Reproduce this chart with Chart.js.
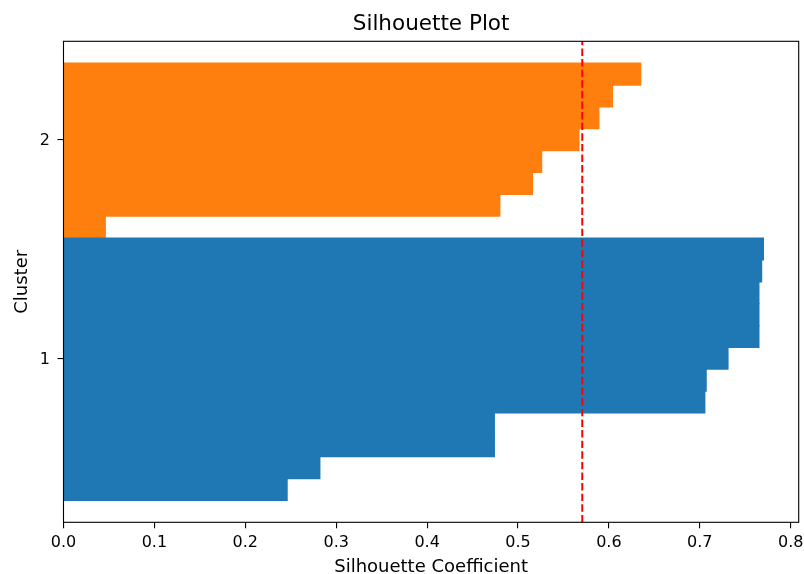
<!DOCTYPE html>
<html>
<head>
<meta charset="utf-8">
<title>Silhouette Plot</title>
<script src="https://cdn.jsdelivr.net/npm/chart.js@4/dist/chart.umd.min.js"></script>
<style>
    body { margin: 0; background: #fff; }
    canvas { display: block; }
</style>
</head>
<body>
<canvas id="chart" width="804" height="574"></canvas>
<script>
// silhouette values per sample, sorted, bottom to top
let clusterLabels = ['1', '2'];
let cluster1Scores = [0.246, 0.282, 0.474, 0.474, 0.7055, 0.707, 0.731, 0.765, 0.765, 0.765, 0.768, 0.770];
let cluster2Scores = [0.046, 0.480, 0.516, 0.526, 0.567, 0.589, 0.604, 0.635];
let averageScore = 0.5707;
let xTickValues = [0.0, 0.1, 0.2, 0.3, 0.4, 0.5, 0.6, 0.7, 0.8];
let clusterColors = ['#1f77b4', '#ff7f0e'];

Chart.defaults.font.family = 'DejaVu Sans';
Chart.defaults.color = '#000';

let clusters = [cluster1Scores, cluster2Scores];
let datasets = [];
let yTickValues = [];
let yLower = 0;

clusters.forEach(function (scores, c) {
    datasets.push({
        type: 'bar',
        label: 'Cluster ' + clusterLabels[c],
        data: scores.map(function (v, i) { return { x: v, y: yLower + i + 0.5 }; }),
        backgroundColor: clusterColors[c],
        borderWidth: 0,
        inflateAmount: 0.6,
        barPercentage: 1,
        categoryPercentage: 1,
        grouped: false,
        order: 1
    });
    yTickValues.push(yLower + scores.length / 2 + 0.5);
    yLower += scores.length;
});

let yMin = -1;
let yMax = yLower + 1;

// average silhouette score
datasets.push({
    type: 'line',
    label: 'Average',
    data: [{ x: averageScore, y: yMin }, { x: averageScore, y: yMax }],
    borderColor: 'red',
    borderWidth: 2,
    borderDash: [7.4, 3.2],
    pointRadius: 0,
    order: 0
});

// box around the plot area
let frame = {
    id: 'frame',
    afterDatasetsDraw: function (chart) {
        let a = chart.chartArea;
        let ctx = chart.ctx;
        ctx.save();
        ctx.strokeStyle = '#000';
        ctx.lineWidth = 1.1;
        ctx.strokeRect(a.left, a.top, a.right - a.left, a.bottom - a.top);
        ctx.restore();
    }
};

let ctx = document.getElementById('chart').getContext('2d');

let chart = new Chart(ctx, {
    type: 'bar',
    data: { datasets: datasets },
    plugins: [frame],
    options: {
        indexAxis: 'y',
        responsive: false,
        devicePixelRatio: 1,
        animation: false,
        layout: { padding: { left: 0, right: 5.3, top: 0, bottom: 0 } },
        plugins: {
            legend: { display: false },
            tooltip: { enabled: false },
            title: {
                display: true,
                text: 'Silhouette Plot',
                fullSize: false,
                color: '#000',
                font: { size: 21.5, weight: 'normal', lineHeight: 1.2 },
                padding: { top: 11.4, bottom: 4.1 }
            }
        },
        scales: {
            x: {
                type: 'linear',
                min: 0,
                max: 0.8088,
                offset: false,
                afterBuildTicks: function (scale) {
                    scale.ticks = xTickValues.map(function (v) { return { value: v }; });
                },
                afterFit: function (scale) {
                    scale.height = 51.7;
                    scale.paddingLeft = 0;
                    scale.paddingRight = 0;
                },
                ticks: {
                    autoSkip: false,
                    maxRotation: 0,
                    padding: 4.6,
                    font: { size: 16 },
                    callback: function (v) { return v.toFixed(1); }
                },
                grid: { offset: false, drawOnChartArea: false, drawTicks: true, tickLength: 6, color: '#000', lineWidth: 1.1 },
                border: { display: false },
                title: {
                    display: true,
                    text: 'Silhouette Coefficient',
                    font: { size: 18, lineHeight: 1 },
                    padding: { top: 0, bottom: -2.6 }
                }
            },
            y: {
                type: 'linear',
                min: yMin,
                max: yMax,
                offset: false,
                afterBuildTicks: function (scale) {
                    scale.ticks = yTickValues.map(function (v) { return { value: v }; });
                },
                afterFit: function (scale) {
                    scale.width = 63.5;
                    scale.paddingTop = 0;
                    scale.paddingBottom = 0;
                },
                ticks: {
                    autoSkip: false,
                    padding: 7.5,
                    labelOffset: 1.5,
                    font: { size: 16 },
                    callback: function (v, i) { return clusterLabels[i]; }
                },
                grid: { offset: false, drawOnChartArea: false, drawTicks: true, tickLength: 6, color: '#000', lineWidth: 1.1 },
                border: { display: false },
                title: {
                    display: true,
                    text: 'Cluster',
                    font: { size: 18, lineHeight: 1 },
                    padding: { top: 13.1, bottom: 0 }
                }
            }
        }
    }
});
</script>
</body>
</html>
